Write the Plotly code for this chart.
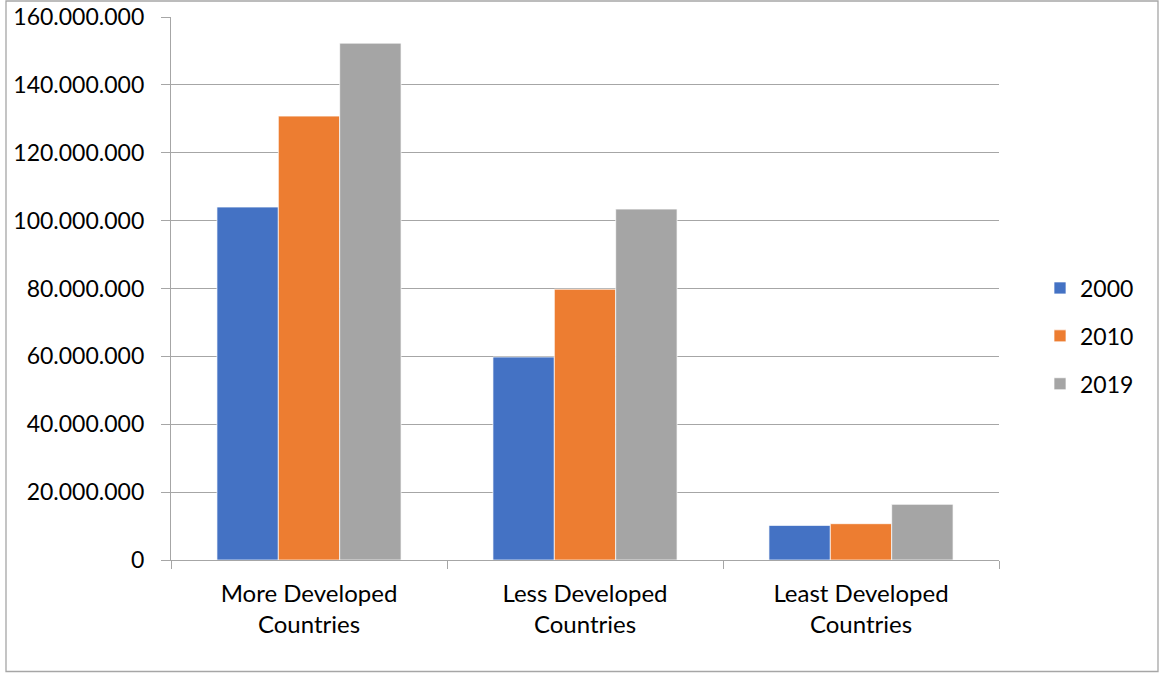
import plotly.graph_objects as go

categories = ["More Developed<br>Countries", "Less Developed<br>Countries", "Least Developed<br>Countries"]
years = ["2000", "2010", "2019"]
values_2000 = [104_000_000, 59_800_000, 10_200_000]
values_2010 = [130_800_000, 79_800_000, 10_700_000]
values_2019 = [152_300_000, 103_400_000, 16_400_000]
series = [values_2000, values_2010, values_2019]
colors = ["#4472C4", "#ED7D31", "#A5A5A5"]
y_ticks = list(range(0, 160_000_001, 20_000_000))

FONT = "Lato"
W, H = 1171, 675
L, R, T, B = 171, 999, 17, 560

fig = go.Figure()
for name, vals, col in zip(years, series, colors):
    fig.add_trace(go.Bar(
        x=categories, y=vals, name=name, legendgroup=name,
        marker=dict(color=col, line=dict(color="rgba(255,255,255,0.7)", width=1)),
    ))

def px_x(px):
    return (px - L) / (R - L)

def px_y(py):
    return (B - py) / (B - T)

fig.add_shape(type="rect", xref="paper", yref="paper",
              x0=px_x(6), x1=px_x(1158), y0=px_y(671.5), y1=px_y(1),
              line=dict(color="#a6a6a6", width=1.3), fillcolor="rgba(0,0,0,0)", layer="below")

fig.update_layout(
    width=W, height=H,
    margin=dict(l=L, r=W - R, t=T, b=H - B, pad=0, autoexpand=False),
    paper_bgcolor="white", plot_bgcolor="white",
    separators=",.",
    barmode="group", bargap=0.333, bargroupgap=0,
    font=dict(family=FONT, size=23, color="#000000"),
    legend=dict(x=px_x(1040), y=px_y(336), xanchor="left", yanchor="middle",
                font=dict(family=FONT, size=23), tracegroupgap=15,
                itemwidth=30, bgcolor="rgba(0,0,0,0)"),
    xaxis=dict(showline=True, linecolor="#a6a6a6", linewidth=1.3, automargin=False,
               ticks="outside", tickson="boundaries", ticklen=8, tickcolor="#a6a6a6",
               tickwidth=1.3, showgrid=False, tickfont=dict(family=FONT, size=24),
               ticklabelstandoff=12),
    yaxis=dict(range=[0, 160_000_000], tickvals=y_ticks, tickformat=",d", automargin=False,
               showline=True, linecolor="#a6a6a6", linewidth=1.3,
               ticks="outside", ticklen=9, tickcolor="#a6a6a6", tickwidth=1.3,
               showgrid=True, gridcolor="#a6a6a6", gridwidth=1.3,
               zeroline=False, tickfont=dict(family=FONT, size=23),
               ticklabelstandoff=12),
)

post = ("document.body.style.margin='0px';document.body.style.padding='0px';"
        "document.body.style.overflow='hidden';")
fig.write_html("out.html", post_script=post, config={"displayModeBar": False})
